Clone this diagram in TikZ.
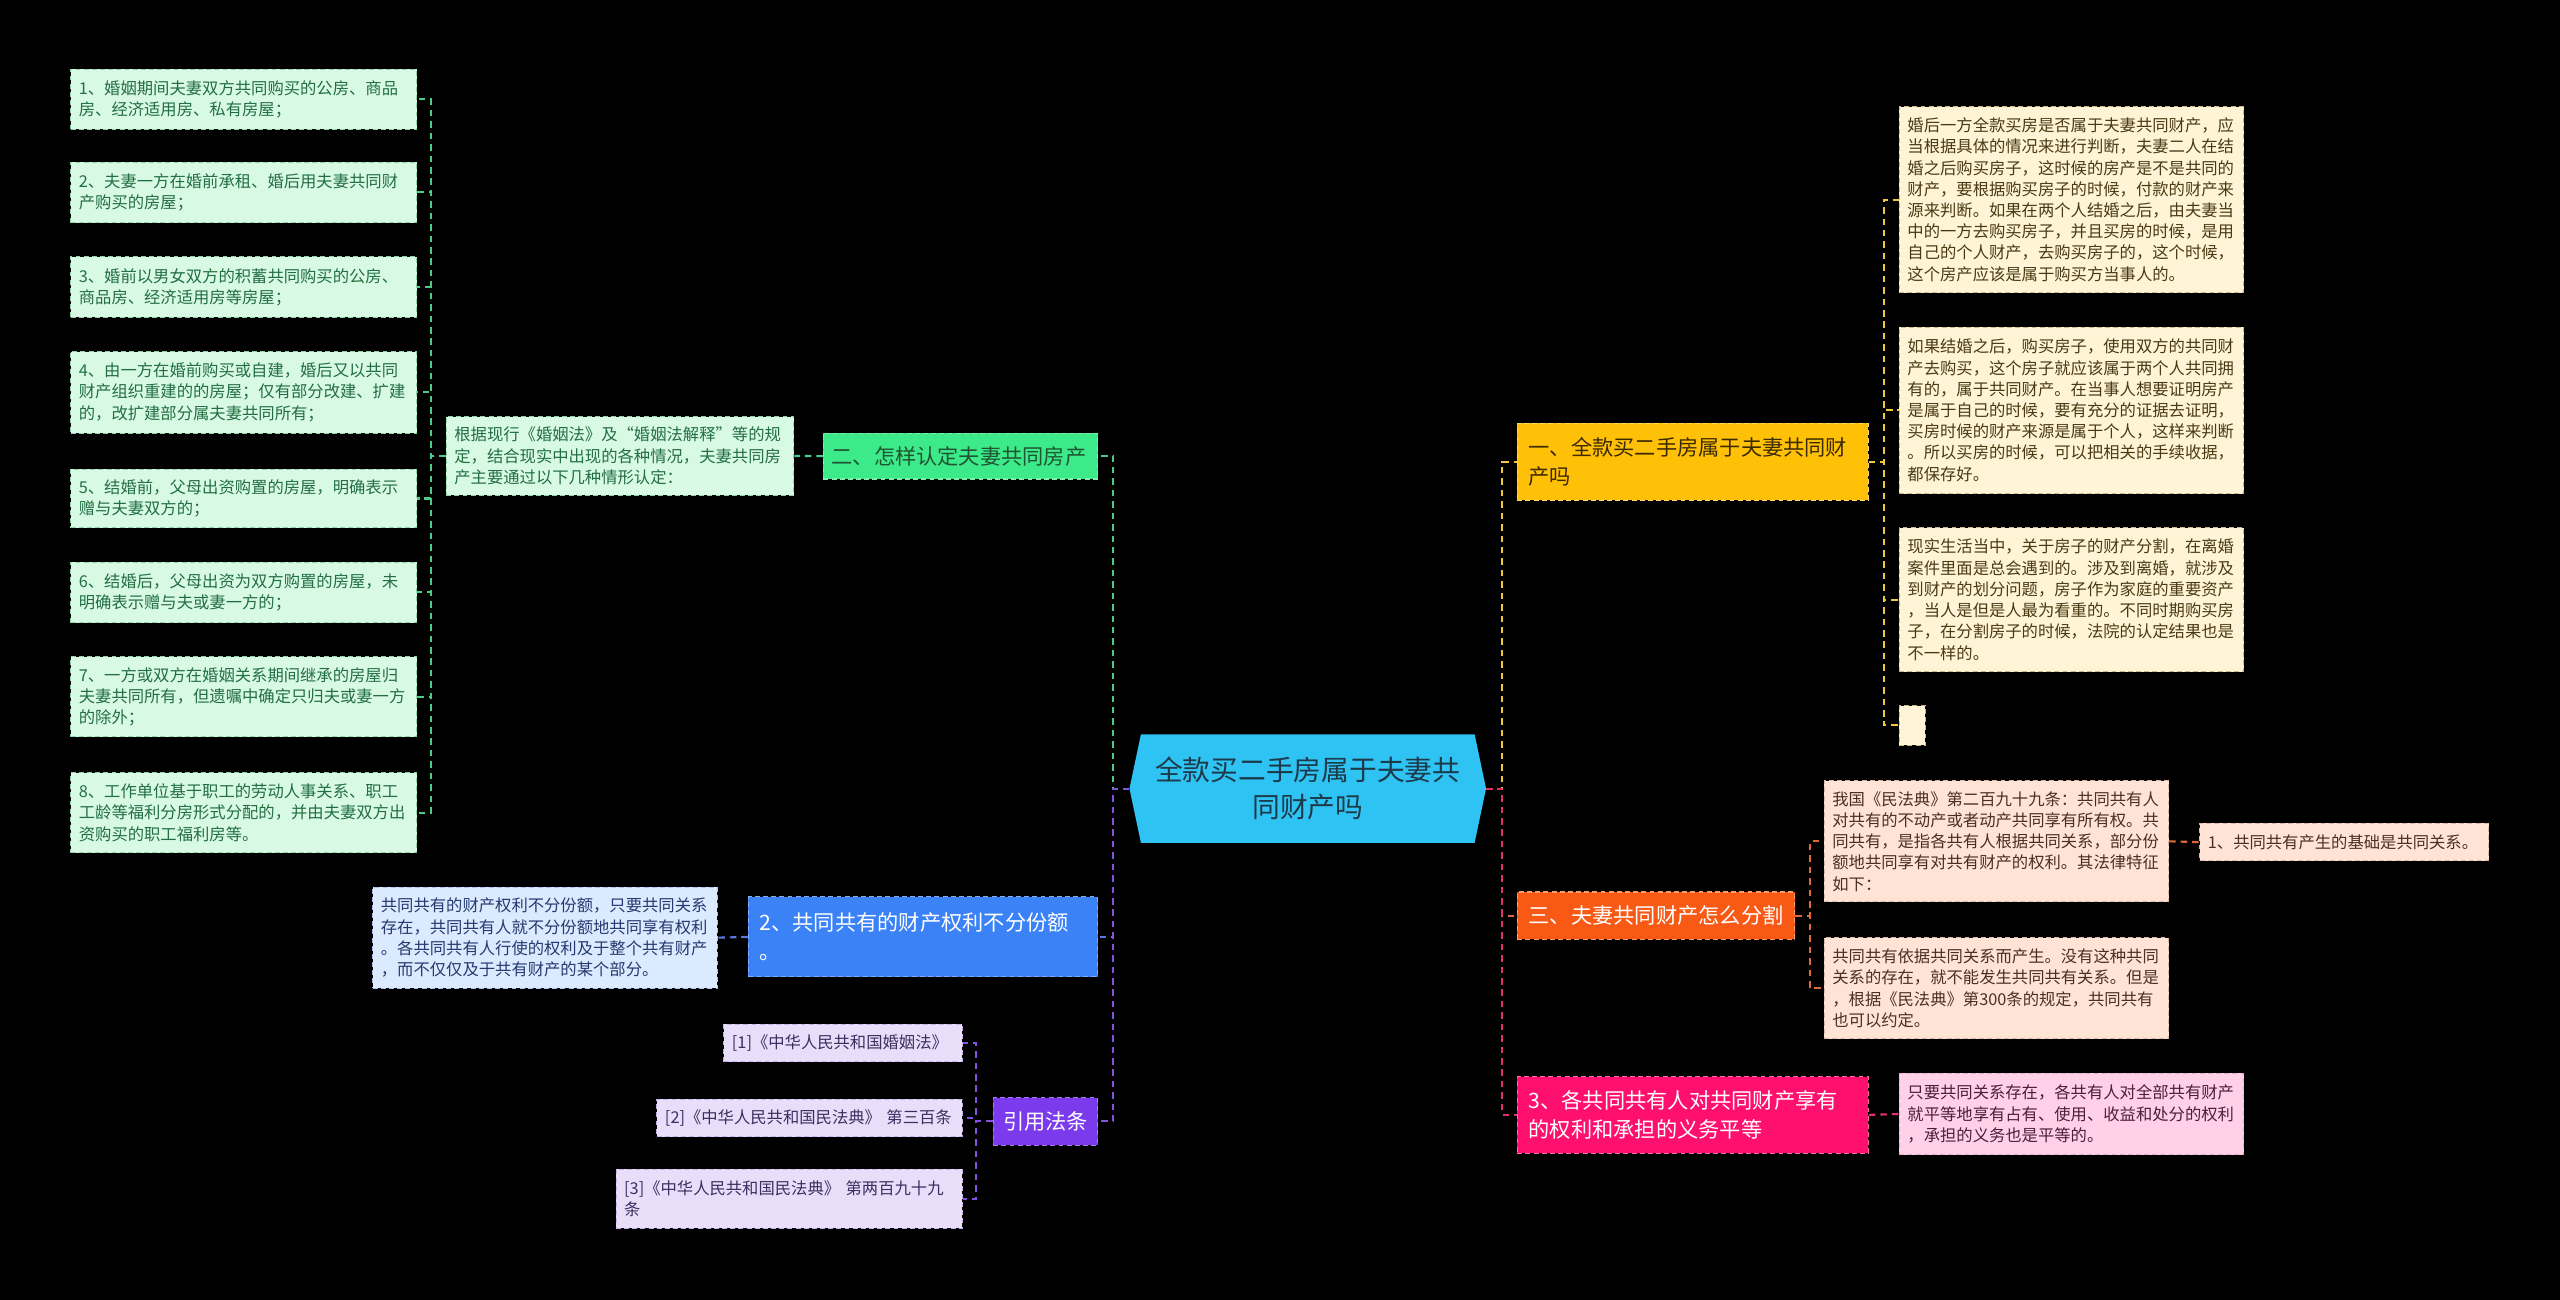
\documentclass[tikz,border=0pt]{standalone}
\usepackage{fontspec}
\setmainfont{Noto Sans CJK SC}
\usetikzlibrary{backgrounds}
\definecolor{cen}{HTML}{2EC3F2}
\definecolor{centx}{HTML}{1D3A4A}
\definecolor{gbr}{HTML}{3DEA8A}\definecolor{gbrd}{HTML}{7FF0B0}\definecolor{gbrt}{HTML}{1E5532}
\definecolor{glf}{HTML}{D8FAE5}\definecolor{glfd}{HTML}{8FD3A9}\definecolor{glft}{HTML}{236E42}
\definecolor{gln}{HTML}{4CCB86}
\definecolor{bbr}{HTML}{3B82F6}\definecolor{bbrd}{HTML}{7FAEF8}
\definecolor{blf}{HTML}{DBEAFE}\definecolor{blfd}{HTML}{A9C3EE}\definecolor{blft}{HTML}{253A70}
\definecolor{bln}{HTML}{5B78E0}
\definecolor{pbr}{HTML}{7C3AED}\definecolor{pbrd}{HTML}{A97CF2}
\definecolor{plf}{HTML}{E9DEFA}\definecolor{plfd}{HTML}{C6B2E8}\definecolor{plft}{HTML}{3E2D5E}
\definecolor{pln}{HTML}{8452DE}
\definecolor{ybr}{HTML}{FFC107}\definecolor{ybrd}{HTML}{FFD866}\definecolor{ybrt}{HTML}{3C2A00}
\definecolor{ylf}{HTML}{FFF5D6}\definecolor{ylfd}{HTML}{C9B98A}\definecolor{ylft}{HTML}{4A3A14}
\definecolor{yln}{HTML}{F0C83C}
\definecolor{obr}{HTML}{F85A16}\definecolor{obrd}{HTML}{FF9C66}
\definecolor{olf}{HTML}{FFE4D6}\definecolor{olfd}{HTML}{D9B8A8}\definecolor{olft}{HTML}{4A2F24}
\definecolor{oln}{HTML}{E0693A}
\definecolor{kbr}{HTML}{FF106E}\definecolor{kbrd}{HTML}{FF6FA5}
\definecolor{klf}{HTML}{FFD0E8}\definecolor{klfd}{HTML}{E6A9C8}\definecolor{klft}{HTML}{4E1E3A}
\definecolor{kln}{HTML}{E2306E}
\tikzset{
  lf/.style={anchor=north west, align=left, inner xsep=5pt, inner ysep=0pt,
    font=\fontsize{10}{13}\selectfont, draw, dash pattern=on 3pt off 2pt, line width=0.6pt},
  br/.style={anchor=north west, align=left, inner xsep=7pt, inner ysep=0pt,
    font=\fontsize{13}{17.5}\selectfont, draw, dash pattern=on 3pt off 2pt, line width=0.7pt},
  gleaf/.style={lf, fill=glf, draw=glfd, text=glft},
  bleaf/.style={lf, fill=blf, draw=blfd, text=blft},
  pleaf/.style={lf, fill=plf, draw=plfd, text=plft},
  yleaf/.style={lf, fill=ylf, draw=ylfd, text=ylft},
  oleaf/.style={lf, fill=olf, draw=olfd, text=olft},
  kleaf/.style={lf, fill=klf, draw=klfd, text=klft},
  ln/.style={line width=1.3pt, dash pattern=on 4pt off 3pt},
}
\begin{document}
\begin{tikzpicture}[x=1pt,y=-1pt]
\useasboundingbox (0,0) rectangle (1568,796);
\begin{pgfonlayer}{background}
\fill[black] (0,0) rectangle (1568,796);
\end{pgfonlayer}

% centre
\node[minimum width=204pt, minimum height=66pt, inner sep=0pt, align=center, text=centx,
  font=\fontsize{17}{23}\selectfont] (c) at (801,483) {全款买二手房属于夫妻共\\同财产吗};
\begin{scope}[on background layer]
\fill[cen] (c.north west) -- (c.north east) -- ([xshift=7pt]c.east) -- (c.south east)
  -- (c.south west) -- ([xshift=-7pt]c.west) -- cycle;
\end{scope}
\coordinate (cL) at ([xshift=-7pt]c.west);
\coordinate (cR) at ([xshift=7pt]c.east);

% ---------- left, green ----------
\node[br, fill=gbr, draw=gbrd, text=gbrt, inner xsep=5pt, text width=158pt, minimum height=28pt] (g0) at (504,265) {二、怎样认定夫妻共同房产};
\node[gleaf, text width=203pt, minimum height=48pt] (gd) at (273,255) {根据现行《婚姻法》及“婚姻法解释”等的规\\定，结合现实中出现的各种情况，夫妻共同房\\产主要通过以下几种情形认定：};
\node[gleaf, text width=202pt, minimum height=37pt] (g1) at (43,42) {1、婚姻期间夫妻双方共同购买的公房、商品\\房、经济适用房、私有房屋；};
\node[gleaf, text width=202pt, minimum height=37pt] (g2) at (43,99) {2、夫妻一方在婚前承租、婚后用夫妻共同财\\产购买的房屋；};
\node[gleaf, text width=202pt, minimum height=37pt] (g3) at (43,157) {3、婚前以男女双方的积蓄共同购买的公房、\\商品房、经济适用房等房屋；};
\node[gleaf, text width=202pt, minimum height=50pt] (g4) at (43,215) {4、由一方在婚前购买或自建，婚后又以共同\\财产组织重建的的房屋；仅有部分改建、扩建\\的，改扩建部分属夫妻共同所有；};
\node[gleaf, text width=202pt, minimum height=36pt] (g5) at (43,287) {5、结婚前，父母出资购置的房屋，明确表示\\赠与夫妻双方的；};
\node[gleaf, text width=202pt, minimum height=37pt] (g6) at (43,344) {6、结婚后，父母出资为双方购置的房屋，未\\明确表示赠与夫或妻一方的；};
\node[gleaf, text width=202pt, minimum height=49pt] (g7) at (43,402) {7、一方或双方在婚姻关系期间继承的房屋归\\夫妻共同所有，但遗嘱中确定只归夫或妻一方\\的除外；};
\node[gleaf, text width=202pt, minimum height=49pt] (g8) at (43,473) {8、工作单位基于职工的劳动人事关系、职工\\工龄等福利分房形式分配的，并由夫妻双方出\\资购买的职工福利房等。};

\draw[ln, gln] (cL) -- ++(-10,0) |- (g0.east);
\draw[ln, gln] (g0.west) -- (gd.east);
\foreach \i in {1,...,8}{\draw[ln, gln] (gd.west) -- ++(-9,0) |- (g\i.east);}

% ---------- left, blue ----------
\node[br, fill=bbr, draw=bbrd, text=white, text width=200pt, minimum height=49pt] (b0) at (458,549) {2、共同共有的财产权利不分份额\\。};
\node[bleaf, text width=201pt, minimum height=62pt] (bd) at (228,543) {共同共有的财产权利不分份额，只要共同关系\\存在，共同共有人就不分份额地共同享有权利\\。各共同共有人行使的权利及于整个共有财产\\，而不仅仅及于共有财产的某个部分。};
\draw[ln, bln] (cL) -- ++(-10,0) |- (b0.east);
\draw[ln, bln] (b0.west) -- (bd.east);

% ---------- left, purple ----------
\node[br, fill=pbr, draw=pbrd, text=white, align=center, inner xsep=6pt, text width=52pt, minimum height=29pt] (p0) at (608,672) {引用法条};
\node[pleaf, text width=136pt, minimum height=23pt] (r1) at (443,627) {[1]《中华人民共和国婚姻法》};
\node[pleaf, text width=177pt, minimum height=23pt] (r2) at (402,673) {[2]《中华人民共和国民法典》 第三百条};
\node[pleaf, text width=202pt, minimum height=36pt] (r3) at (377,716) {[3]《中华人民共和国民法典》 第两百九十九\\条};
\draw[ln, pln] (cL) -- ++(-10,0) |- (p0.east);
\foreach \i in {1,2,3}{\draw[ln, pln] (p0.west) -- ++(-10,0) |- (r\i.east);}

% ---------- right, yellow ----------
\node[br, fill=ybr, draw=ybrd, text=ybrt, text width=201pt, minimum height=47pt] (y0) at (929,259) {一、全款买二手房属于夫妻共同财\\产吗};
\node[yleaf, text width=201pt, minimum height=114pt] (ya) at (1163,65) {婚后一方全款买房是否属于夫妻共同财产，应\\当根据具体的情况来进行判断，夫妻二人在结\\婚之后购买房子，这时候的房产是不是共同的\\财产，要根据购买房子的时候，付款的财产来\\源来判断。如果在两个人结婚之后，由夫妻当\\中的一方去购买房子，并且买房的时候，是用\\自己的个人财产，去购买房子的，这个时候，\\这个房产应该是属于购买方当事人的。};
\node[yleaf, text width=201pt, minimum height=102pt] (yb) at (1163,200) {如果结婚之后，购买房子，使用双方的共同财\\产去购买，这个房子就应该属于两个人共同拥\\有的，属于共同财产。在当事人想要证明房产\\是属于自己的时候，要有充分的证据去证明，\\买房时候的财产来源是属于个人，这样来判断\\。所以买房的时候，可以把相关的手续收据，\\都保存好。};
\node[yleaf, text width=201pt, minimum height=88pt] (yc) at (1163,323) {现实生活当中，关于房子的财产分割，在离婚\\案件里面是总会遇到的。涉及到离婚，就涉及\\到财产的划分问题，房子作为家庭的重要资产\\，当人是但是人最为看重的。不同时期购买房\\子，在分割房子的时候，法院的认定结果也是\\不一样的。};
\node[yleaf, inner xsep=0pt, minimum width=16pt, minimum height=24pt] (yd) at (1163,432) {};
\draw[ln, yln] (cR) -- ++(10,0) |- (y0.west);
\foreach \n in {ya,yb,yc,yd}{\draw[ln, yln] (y0.east) -- ++(9,0) |- (\n.west);}

% ---------- right, orange ----------
\node[br, fill=obr, draw=obrd, text=white, text width=156pt, minimum height=29pt] (o0) at (929,546) {三、夫妻共同财产怎么分割};
\node[oleaf, text width=201pt, minimum height=74pt] (oa) at (1117,478) {我国《民法典》第二百九十九条：共同共有人\\对共有的不动产或者动产共同享有所有权。共\\同共有，是指各共有人根据共同关系，部分份\\额地共同享有对共有财产的权利。其法律特征\\如下：};
\node[oleaf, text width=201pt, minimum height=62pt] (ob) at (1117,574) {共同共有依据共同关系而产生。没有这种共同\\关系的存在，就不能发生共同共有关系。但是\\，根据《民法典》第300条的规定，共同共有\\也可以约定。};
\node[oleaf, text width=167pt, minimum height=23pt] (oa1) at (1347,504) {1、共同共有产生的基础是共同关系。};
\draw[ln, oln] (cR) -- ++(10,0) |- (o0.west);
\foreach \n in {oa,ob}{\draw[ln, oln] (o0.east) -- ++(9,0) |- (\n.west);}
\draw[ln, oln] (oa.east) -- (oa1.west);

% ---------- right, pink ----------
\node[br, fill=kbr, draw=kbrd, text=white, text width=201pt, minimum height=47pt] (k0) at (929,659) {3、各共同共有人对共同财产享有\\的权利和承担的义务平等};
\node[kleaf, text width=201pt, minimum height=50pt] (ka) at (1163,657) {只要共同关系存在，各共有人对全部共有财产\\就平等地享有占有、使用、收益和处分的权利\\，承担的义务也是平等的。};
\draw[ln, kln] (cR) -- ++(10,0) |- (k0.west);
\draw[ln, kln] (k0.east) -- (ka.west);
\end{tikzpicture}
\end{document}
